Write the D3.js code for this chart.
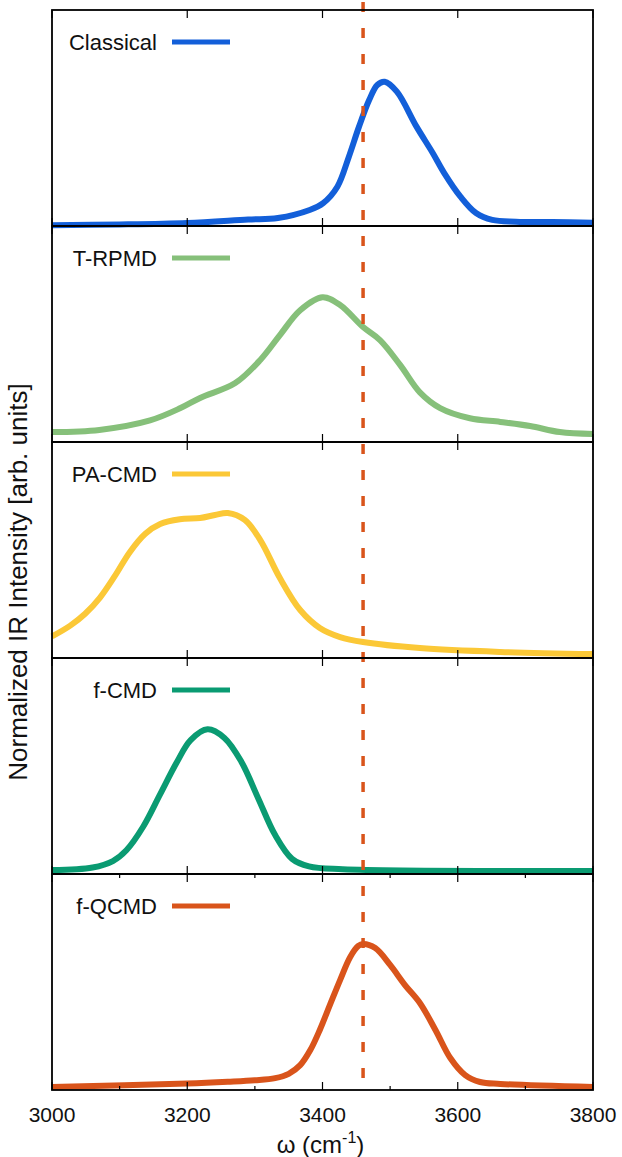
<!DOCTYPE html>
<html>
<head>
<meta charset="utf-8">
<script src="https://cdn.jsdelivr.net/npm/d3@7"></script>
<style>
html,body{margin:0;padding:0;background:#fff;}
svg{display:block;font-family:"Liberation Sans",Arial,Helvetica,sans-serif;}
</style>
</head>
<body>
<svg id="chart" width="622" height="1157"></svg>
<script>
// ---- data ----
const seriesNames = ["Classical", "T-RPMD", "PA-CMD", "f-CMD", "f-QCMD"];
const seriesColors = ["#135fd9", "#86c07a", "#fbc837", "#0a9b72", "#d9541b"];

const classicalW = [3000,3100,3200,3290,3334,3381,3401,3422,3439,3454,3469,3481,3492,3510,3539,3563,3580,3604,3627,3651,3686,3740,3800];
const classicalI = [0.004,0.007,0.014,0.03,0.037,0.074,0.106,0.182,0.321,0.460,0.583,0.653,0.668,0.622,0.460,0.338,0.245,0.136,0.06,0.028,0.02,0.018,0.015];

const trpmdW = [3000,3070,3145,3190,3219,3271,3308,3337,3367,3400,3426,3460,3485,3515,3544,3574,3618,3663,3707,3751,3800];
const trpmdI = [0.046,0.056,0.10,0.157,0.204,0.273,0.38,0.495,0.61,0.67,0.634,0.532,0.472,0.356,0.23,0.157,0.11,0.093,0.074,0.046,0.037];

const pacmdW = [3000,3027,3049,3071,3093,3115,3138,3160,3189,3219,3241,3260,3285,3308,3337,3367,3396,3426,3460,3544,3663,3800];
const pacmdI = [0.10,0.15,0.205,0.28,0.38,0.49,0.575,0.62,0.642,0.648,0.662,0.671,0.639,0.546,0.37,0.222,0.139,0.097,0.074,0.046,0.028,0.018];

const fcmdW = [3000,3060,3090,3110,3135,3160,3185,3205,3230,3255,3280,3305,3330,3355,3380,3430,3800];
const fcmdI = [0.018,0.03,0.06,0.11,0.22,0.37,0.52,0.62,0.67,0.63,0.52,0.35,0.18,0.07,0.035,0.022,0.014];

const fqcmdW = [3000,3200,3260,3300,3330,3350,3367,3382,3396,3411,3426,3441,3453,3460,3478,3500,3522,3544,3567,3589,3611,3633,3663,3800];
const fqcmdI = [0.014,0.03,0.038,0.045,0.055,0.075,0.115,0.185,0.278,0.394,0.509,0.616,0.667,0.676,0.657,0.579,0.486,0.403,0.278,0.148,0.069,0.037,0.028,0.014];

const xTicks = [3000, 3200, 3400, 3600, 3800];
const xMinorTicks = [3100, 3300, 3500, 3700];
const refLine = 3460;

// ---- layout ----
const svg = d3.select("#chart");
const mLeft = 52, mRight = 593, mTop = 10, panelH = 216, nP = 5;
const x = d3.scaleLinear().domain([3000, 3800]).range([mLeft, mRight]);

const allW = [classicalW, trpmdW, pacmdW, fcmdW, fqcmdW];
const allI = [classicalI, trpmdI, pacmdI, fcmdI, fqcmdI];

for (let p = 0; p < nP; p++) {
  const y0 = mTop + p * panelH;
  const y = d3.scaleLinear().domain([0, 1]).range([y0 + panelH, y0]);
  const data = allW[p].map((w, i) => ({w, v: allI[p][i]}));
  const line = d3.line().x(d => x(d.w)).y(d => y(d.v)).curve(d3.curveCatmullRom.alpha(0.5));
  svg.append("path").datum(data).attr("d", line)
    .attr("fill", "none").attr("stroke", seriesColors[p])
    .attr("stroke-width", 6).attr("stroke-linejoin", "round");

  // legend
  const ly = y0 + 32;
  svg.append("text").attr("x", 157).attr("y", ly + 8).attr("text-anchor", "end")
    .attr("font-size", 22).attr("fill", "#111").text(seriesNames[p]);
  svg.append("line").attr("x1", 172).attr("x2", 230).attr("y1", ly).attr("y2", ly)
    .attr("stroke", seriesColors[p]).attr("stroke-width", 5);
}

// dashed reference line
svg.append("line").attr("x1", x(refLine)).attr("x2", x(refLine))
  .attr("y1", 2).attr("y2", mTop + nP * panelH)
  .attr("stroke", "#d9541b").attr("stroke-width", 3.5)
  .attr("stroke-dasharray", "10,16");

// frames + ticks
for (let p = 0; p < nP; p++) {
  const y0 = mTop + p * panelH;
  const y1 = y0 + panelH;
  svg.append("rect").attr("x", mLeft).attr("y", y0).attr("width", mRight - mLeft).attr("height", panelH)
    .attr("fill", "none").attr("stroke", "#000").attr("stroke-width", 1.8);
  const g = svg.append("g");
  g.selectAll(null).data(xTicks).enter().append("line")
    .attr("x1", d => x(d)).attr("x2", d => x(d)).attr("y1", y0).attr("y2", y0 + 8)
    .attr("stroke", "#000").attr("stroke-width", 1.2);
  g.selectAll(null).data(xTicks).enter().append("line")
    .attr("x1", d => x(d)).attr("x2", d => x(d)).attr("y1", y1).attr("y2", y1 - 8)
    .attr("stroke", "#000").attr("stroke-width", 1.2);
  if (p === nP - 1) {
    g.selectAll(null).data(xMinorTicks).enter().append("line")
      .attr("x1", d => x(d)).attr("x2", d => x(d)).attr("y1", y0).attr("y2", y0 + 4)
      .attr("stroke", "#000").attr("stroke-width", 1.2);
    g.selectAll(null).data(xMinorTicks).enter().append("line")
      .attr("x1", d => x(d)).attr("x2", d => x(d)).attr("y1", y1).attr("y2", y1 - 4)
      .attr("stroke", "#000").attr("stroke-width", 1.2);
  }
}

// bottom axis labels
const bottomY = mTop + nP * panelH;
svg.selectAll(null).data(xTicks).enter().append("text")
  .attr("x", d => x(d)).attr("y", bottomY + 32).attr("text-anchor", "middle")
  .attr("font-size", 21).attr("fill", "#111").text(d => d);

const xt = svg.append("text").attr("x", (mLeft + mRight) / 2 - 2).attr("y", bottomY + 63)
  .attr("text-anchor", "middle").attr("font-size", 24).attr("fill", "#111");
xt.append("tspan").text("ω (cm");
xt.append("tspan").attr("dy", -10).attr("font-size", 16).text("-1");
xt.append("tspan").attr("dy", 10).text(")");

svg.append("text").attr("transform", `translate(27,${mTop + nP * panelH / 2 + 32}) rotate(-90)`)
  .attr("text-anchor", "middle").attr("font-size", 26).attr("fill", "#111")
  .text("Normalized IR Intensity [arb. units]");
</script>
</body>
</html>
